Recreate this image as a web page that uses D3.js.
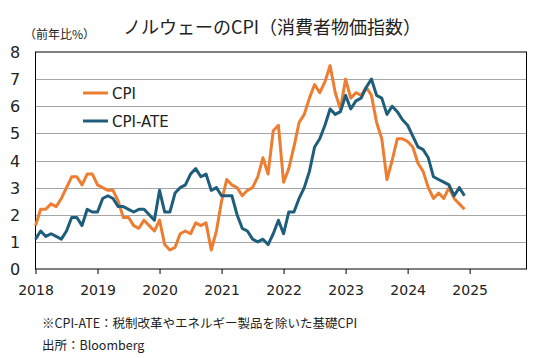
<!DOCTYPE html>
<html>
<head>
<meta charset="utf-8">
<script src="https://cdn.jsdelivr.net/npm/d3@7"></script>
<style>
  body { margin: 0; background: #fff; }
  text { font-family: "DejaVu Sans", "Noto Sans CJK JP", sans-serif; }
  .jp { font-family: "Noto Sans CJK JP", sans-serif; }
</style>
</head>
<body>
<script>
// monthly y/y %, 2018-01 .. 2024-12
var cpi = [
  1.6, 2.2, 2.2, 2.4, 2.3, 2.6, 3.0, 3.4, 3.4, 3.1, 3.5, 3.5,
  3.1, 3.0, 2.9, 2.9, 2.5, 1.9, 1.9, 1.6, 1.5, 1.8, 1.6, 1.4,
  1.8, 0.9, 0.7, 0.8, 1.3, 1.4, 1.3, 1.7, 1.6, 1.7, 0.7, 1.4,
  2.5, 3.3, 3.1, 3.0, 2.7, 2.9, 3.0, 3.4, 4.1, 3.5, 5.1, 5.3,
  3.2, 3.7, 4.5, 5.4, 5.7, 6.3, 6.8, 6.5, 6.9, 7.5, 6.5, 5.9,
  7.0, 6.3, 6.5, 6.4, 6.7, 6.4, 5.4, 4.8, 3.3, 4.0, 4.8, 4.8,
  4.7, 4.5, 3.9, 3.6, 3.0, 2.6, 2.8, 2.6, 3.0, 2.6, 2.4, 2.2
];
var cpiAte = [
  1.1, 1.4, 1.2, 1.3, 1.2, 1.1, 1.4, 1.9, 1.9, 1.6, 2.2, 2.1,
  2.1, 2.6, 2.7, 2.6, 2.3, 2.3, 2.2, 2.1, 2.2, 2.2, 2.0, 1.8,
  2.9, 2.1, 2.1, 2.8, 3.0, 3.1, 3.5, 3.7, 3.4, 3.5, 2.9, 3.0,
  2.7, 2.7, 2.7, 2.0, 1.5, 1.4, 1.1, 1.0, 1.1, 0.9, 1.3, 1.8,
  1.3, 2.1, 2.1, 2.6, 3.0, 3.6, 4.5, 4.8, 5.3, 5.9, 5.7, 5.8,
  6.4, 5.9, 6.2, 6.3, 6.7, 7.0, 6.4, 6.3, 5.7, 6.0, 5.8, 5.5,
  5.3, 4.9, 4.5, 4.4, 4.1, 3.4, 3.3, 3.2, 3.1, 2.7, 3.0, 2.7
];
var years = [2018, 2019, 2020, 2021, 2022, 2023, 2024, 2025];
var yTicks = [0, 1, 2, 3, 4, 5, 6, 7, 8];
var seriesNames = ["CPI", "CPI-ATE"];

var W = 552, H = 358;
var pLeft = 35.5, pRight = 526.5, pTop = 52, pBottom = 269;

var svg = d3.select("body").append("svg").attr("width", W).attr("height", H);

var x = d3.scaleLinear().domain([0, 95]).range([pLeft, pRight]);
var y = d3.scaleLinear().domain([0, 8]).range([pBottom, pTop]);

// grid
svg.append("g").selectAll("line").data(yTicks.slice(1, -1)).enter().append("line")
  .attr("x1", pLeft).attr("x2", pRight)
  .attr("y1", function(d){ return Math.round(y(d)) + 0.5; })
  .attr("y2", function(d){ return Math.round(y(d)) + 0.5; })
  .style("stroke", "#a6a6a6").style("stroke-width", 1);

// y labels
svg.append("g").selectAll("text").data(yTicks).enter().append("text")
  .attr("x", 15).attr("y", function(d){ return y(d) + 6; })
  .attr("text-anchor", "middle")
  .style("font-size", "16px").style("fill", "#222")
  .text(function(d){ return d; });

// x axis
var xAxis = d3.axisBottom(x)
  .tickValues(years.map(function(yr){ return (yr - 2018) * 12; }))
  .tickSize(5).tickPadding(11)
  .tickFormat(function(d){ return 2018 + d / 12; });
var gx = svg.append("g").attr("transform", "translate(0," + pBottom + ")").call(xAxis);
gx.select(".domain").remove();
gx.selectAll("line").style("stroke", "#000");
gx.selectAll("text").style("font-size", "14px").style("fill", "#222")
  .style("font-family", "'DejaVu Sans', sans-serif");

// frame
svg.append("rect").attr("x", pLeft).attr("y", pTop)
  .attr("width", pRight - pLeft).attr("height", pBottom - pTop)
  .style("fill", "none").style("stroke", "#000").style("stroke-width", 1);

var color = d3.scaleOrdinal().domain(seriesNames).range(["#ED7D31", "#1F5E7B"]);

var line = d3.line()
  .x(function(d, i){ return x(i); })
  .y(function(d){ return y(d); });

[cpi, cpiAte].forEach(function(s, i){
  svg.append("path").datum(s)
    .attr("d", line)
    .style("fill", "none")
    .style("stroke", color(seriesNames[i]))
    .style("stroke-width", 3)
    .style("stroke-linejoin", "round");
});

// legend
seriesNames.forEach(function(n, i){
  var ly = 93 + i * 28;
  svg.append("line").attr("x1", 83).attr("x2", 108).attr("y1", ly).attr("y2", ly)
    .style("stroke", color(n)).style("stroke-width", 3);
  svg.append("text").attr("x", 112).attr("y", ly + 6)
    .style("font-size", "15px").style("fill", "#222").text(n);
});

// titles
svg.append("text").attr("class", "jp").attr("x", 272).attr("y", 34)
  .attr("text-anchor", "middle").style("font-size", "18px").style("fill", "#222")
  .text("ノルウェーのCPI（消費者物価指数）");
svg.append("text").attr("class", "jp").attr("x", 24).attr("y", 39)
  .style("font-size", "12px").style("fill", "#222")
  .text("（前年比%）");

svg.append("text").attr("class", "jp").attr("x", 42).attr("y", 328)
  .style("font-size", "12.5px").style("fill", "#222")
  .text("※CPI-ATE：税制改革やエネルギー製品を除いた基礎CPI");
svg.append("text").attr("class", "jp").attr("x", 42).attr("y", 350)
  .style("font-size", "12.5px").style("fill", "#222")
  .text("出所：Bloomberg");
</script>
</body>
</html>
